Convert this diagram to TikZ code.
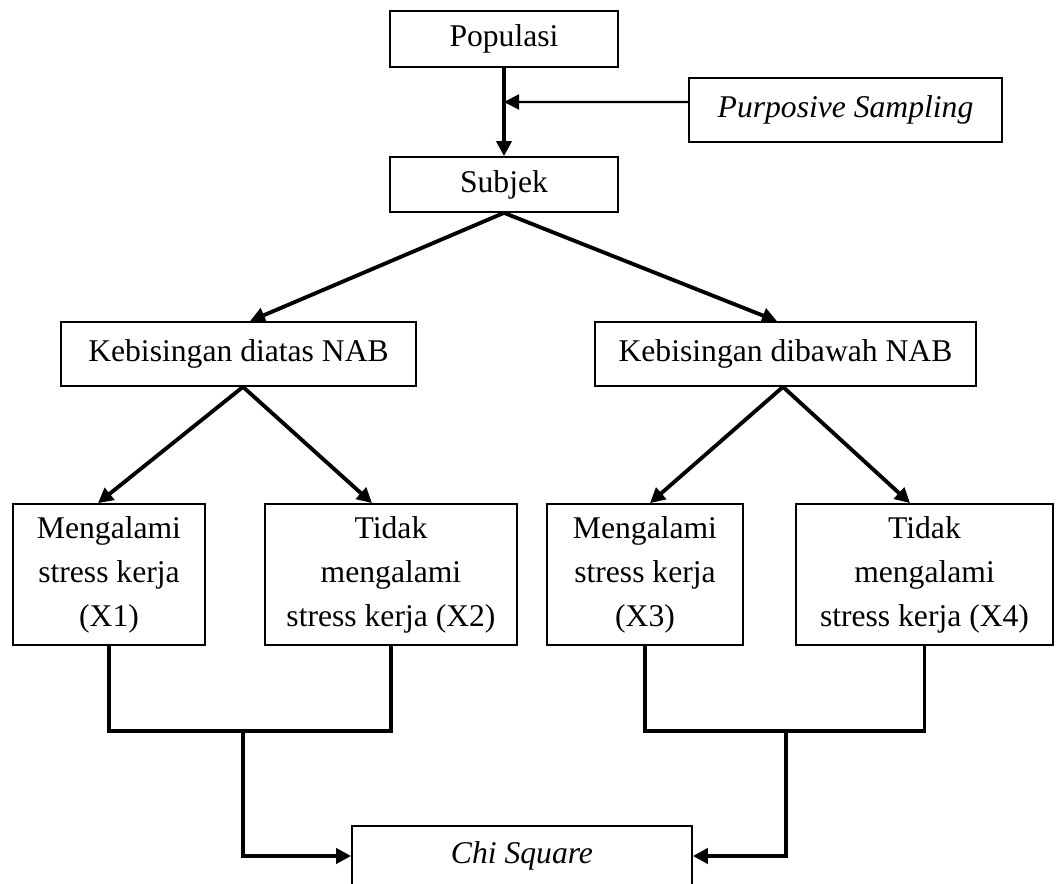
\documentclass[tikz,border=0pt]{standalone}
\usepackage{fontspec}
\setmainfont{Liberation Serif}
\usetikzlibrary{arrows.meta}

\begin{document}
\begin{tikzpicture}[x=0.02cm, y=-0.02cm,
  every node/.style={draw, line width=1pt, inner sep=0pt, align=center, font=\fontsize{18}{25}\selectfont},
  conn/.style={line width=2.2pt},
  arr/.style={line width=2.2pt, -{Triangle[length=0.3cm, width=0.3cm]}}]
\useasboundingbox (0,0) rectangle (1056,884);

\node[minimum width=4.56cm, minimum height=1.12cm] (pop) at (504,39) {Populasi};
\node[minimum width=4.56cm, minimum height=1.1cm] (sub) at (504,184.5) {Subjek};
\node[minimum width=6.26cm, minimum height=1.28cm] (purp) at (845.5,110) {\textit{Purposive Sampling}};

\node[minimum width=7.1cm, minimum height=1.28cm] (atas) at (238.5,354) {Kebisingan diatas NAB};
\node[minimum width=7.62cm, minimum height=1.28cm] (bawah) at (785.5,354) {Kebisingan dibawah NAB};

\node[minimum width=3.84cm, minimum height=2.82cm] (xa) at (109,574.5) {Mengalami\\stress kerja\\(X1)};
\node[minimum width=5.04cm, minimum height=2.82cm] (xb) at (391,574.5) {Tidak\\mengalami\\stress kerja (X2)};
\node[minimum width=3.92cm, minimum height=2.82cm] (xc) at (645,574.5) {Mengalami\\stress kerja\\(X3)};
\node[minimum width=5.14cm, minimum height=2.82cm] (xd) at (924.5,574.5) {Tidak\\mengalami\\stress kerja (X4)};

\node[minimum width=6.8cm, minimum height=1.2cm] (chi) at (522,856) {\textit{Chi Square}};

\coordinate (mid) at (504,102);
\coordinate (ja) at (243,731);
\coordinate (jb) at (786,731);

\draw[arr] (pop.south) -- (sub.north);
\draw[arr, line width=1.2pt] ([yshift=0.16cm]purp.west) -- (mid);

\draw[arr] (sub.south) -- ([xshift=0.23cm]atas.north);
\draw[arr] (sub.south) -- ([xshift=-0.17cm]bawah.north);

\draw[arr] ([xshift=0.09cm]atas.south) -- ([xshift=-0.22cm]xa.north);
\draw[arr] ([xshift=0.09cm]atas.south) -- ([xshift=-0.38cm]xb.north);
\draw[arr] ([xshift=-0.05cm]bawah.south) -- ([xshift=0.1cm]xc.north);
\draw[arr] ([xshift=-0.05cm]bawah.south) -- ([xshift=-0.29cm]xd.north);

\draw[conn] (xa.south) -- (xa.south |- ja) -- (xb.south |- ja) -- (xb.south);
\draw[conn] (xc.south) -- (xc.south |- jb) -- (xd.south |- jb) -- (xd.south);
\draw[arr] (ja) |- (chi.west);
\draw[arr] (jb) |- (chi.east);
\end{tikzpicture}
\end{document}
